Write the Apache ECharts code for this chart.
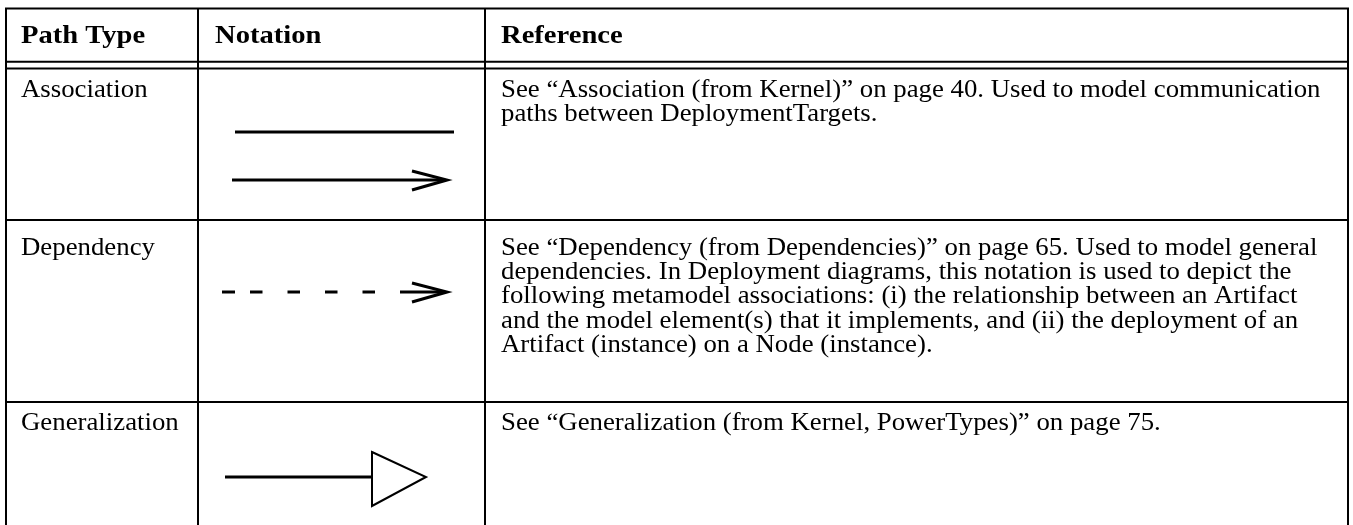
<!DOCTYPE html>
<html>
<head>
<meta charset="utf-8">
<script src="https://cdn.jsdelivr.net/npm/echarts@6/dist/echarts.min.js"></script>
<style>
html,body{margin:0;padding:0;background:#fff;}
#c{width:1353px;height:525px;}
</style>
</head>
<body>
<div id="c"></div>
<script>
// ---- data ----
const headers = ['Path Type', 'Notation', 'Reference'];
const pathTypes = ['Association', 'Dependency', 'Generalization'];
const notations = ['association', 'dependency', 'generalization'];
const referenceAssociation = [
  'See \u201cAssociation (from Kernel)\u201d on page 40. Used to model communication',
  'paths between DeploymentTargets.'
];
const referenceDependency = [
  'See \u201cDependency (from Dependencies)\u201d on page 65. Used to model general',
  'dependencies. In Deployment diagrams, this notation is used to depict the',
  'following metamodel associations: (i) the relationship between an Artifact',
  'and the model element(s) that it implements, and (ii) the deployment of an',
  'Artifact (instance) on a Node (instance).'
];
const referenceGeneralization = [
  'See \u201cGeneralization (from Kernel, PowerTypes)\u201d on page 75.'
];
const references = [referenceAssociation, referenceDependency, referenceGeneralization];

// ---- layout (styles, not data) ----
const W = 1353, H = 525;
const L = {
  left: 6, right: 1348, top: 8.5, bottom: 525,
  colX: [198, 485],
  headDouble: [61.8, 68.6],
  rowTop: [68.6, 220, 402],
  firstBaseline: [98, 256, 431],
  leading: 24.2,
  headBaseline: 44,
  textX: [21, 215, 501],
  bodyFont: 24.5, bodyScale: 1.094,
  headFont: 26, headScale: 1.1,
  border: 2
};
const FONT = 'Liberation Serif';

function textEl(api, x, baseline, str, size, scale, bold) {
  const p = api.coord([x, baseline - 0.3 * size]);
  return {
    type: 'text', x: p[0], y: p[1], scaleX: scale, scaleY: 1,
    style: {
      text: str, x: 0, y: 0,
      fontFamily: FONT, fontSize: size, fontWeight: bold ? 'bold' : 'normal',
      fill: '#000', align: 'left', verticalAlign: 'middle'
    }
  };
}
function lineEl(api, x1, y1, x2, y2, w, dash) {
  const a = api.coord([x1, y1]), b = api.coord([x2, y2]);
  return {
    type: 'line', shape: {x1: a[0], y1: a[1], x2: b[0], y2: b[1]},
    style: {stroke: '#000', lineWidth: w, lineDash: dash || null, fill: null}
  };
}
function polyEl(api, pts, w, closed) {
  const p = pts.map(q => api.coord(q));
  return {
    type: closed ? 'polygon' : 'polyline', shape: {points: p},
    style: {stroke: '#000', lineWidth: w, fill: closed ? '#fff' : null, lineJoin: 'miter'}
  };
}

function notationEls(api, kind) {
  const els = [];
  if (kind === 'association') {
    els.push(lineEl(api, 235, 132, 454, 132, 3));
    els.push(lineEl(api, 232, 180, 445, 180, 3));
    els.push(polyEl(api, [[412, 171], [447, 180], [412, 190]], 3, false));
  } else if (kind === 'dependency') {
    els.push(lineEl(api, 222, 292, 235, 292, 3));
    els.push(lineEl(api, 250, 292, 400, 292, 3, [12.5, 25]));
    els.push(lineEl(api, 400, 292, 445, 292, 3));
    els.push(polyEl(api, [[412, 283], [447, 292], [412, 302]], 3, false));
  } else {
    els.push(lineEl(api, 225, 477, 372, 477, 3));
    els.push(polyEl(api, [[372, 452], [426, 477], [372, 506]], 2, true));
  }
  return els;
}

function renderItem(params, api) {
  const idx = api.value(0);
  const children = [];
  if (idx === -1) {
    children.push(lineEl(api, L.left - 1, L.top, L.right + 1, L.top, L.border));
    L.headDouble.forEach(y => children.push(lineEl(api, L.left, y, L.right, y, L.border)));
    L.rowTop.slice(1).forEach(y => children.push(lineEl(api, L.left, y, L.right, y, L.border)));
    [L.left, L.colX[0], L.colX[1], L.right].forEach(x =>
      children.push(lineEl(api, x, L.top, x, L.bottom, L.border)));
    headers.forEach((h, i) =>
      children.push(textEl(api, L.textX[i], L.headBaseline, h, L.headFont, L.headScale, true)));
  } else {
    children.push(textEl(api, L.textX[0], L.firstBaseline[idx], pathTypes[idx], L.bodyFont, L.bodyScale, false));
    references[idx].forEach((s, k) =>
      children.push(textEl(api, L.textX[2], L.firstBaseline[idx] + k * L.leading, s, L.bodyFont, L.bodyScale, false)));
    notationEls(api, notations[idx]).forEach(e => children.push(e));
  }
  return {type: 'group', children};
}

const chart = echarts.init(document.getElementById('c'), null, {renderer: 'canvas'});
chart.setOption({
  animation: false,
  backgroundColor: '#fff',
  grid: {left: 0, right: 0, top: 0, bottom: 0},
  xAxis: {type: 'value', min: 0, max: W, show: false},
  yAxis: {type: 'value', min: 0, max: H, inverse: true, show: false},
  series: [{
    type: 'custom',
    renderItem: renderItem,
    clip: false,
    silent: true,
    data: [[-1]].concat(pathTypes.map((_, i) => [i]))
  }]
});
</script>
</body>
</html>
